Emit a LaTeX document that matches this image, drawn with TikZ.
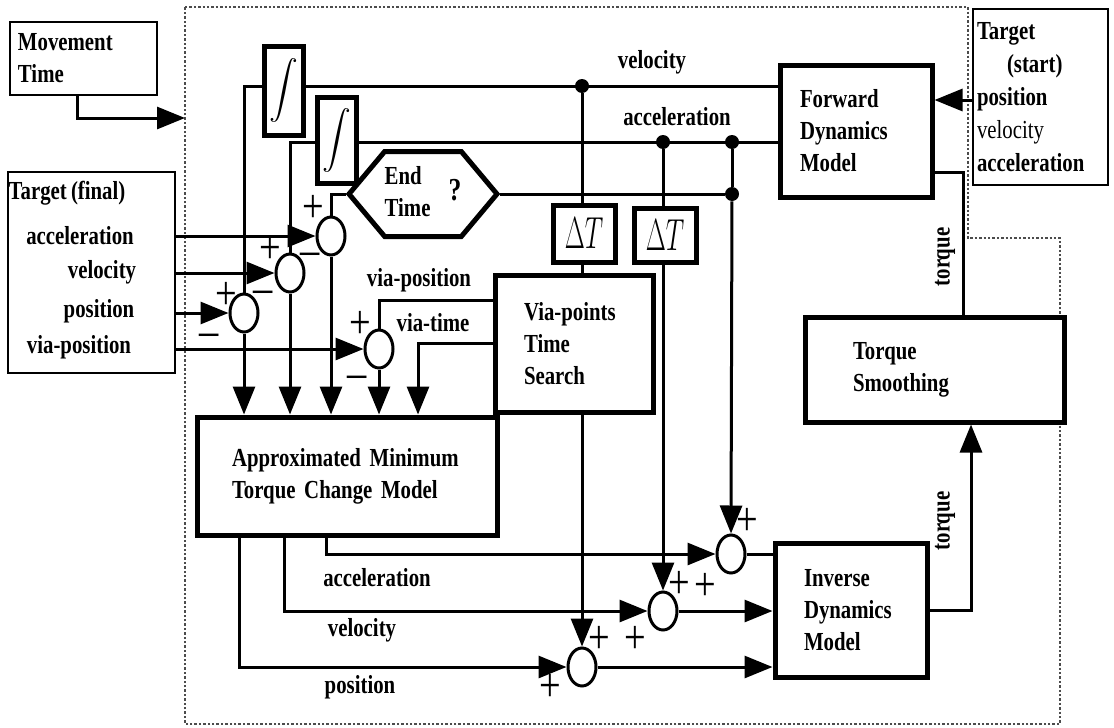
\documentclass[tikz,border=0pt]{standalone}
\usepackage{amsmath}
\usepackage{graphicx}
\usepackage{fontspec}
\setmainfont{Liberation Serif}[FakeStretch=0.8, WordSpace=0.8]
\usepackage{tikz}
\usetikzlibrary{shapes.geometric, shapes.symbols, arrows.meta, calc}

\newcommand{\lblfont}{\fontsize{13}{16}\selectfont\bfseries}
\newcommand{\dT}{\scalebox{0.75}[1.3]{$\Delta T$}}
\tikzset{
  wire/.style={line width=1.5pt},
  arr/.style={line width=1.5pt, -{Triangle[length=14pt, width=11pt]}},
  blk/.style={draw, rectangle, line width=2.5pt, fill=white, align=left, inner ysep=0pt, font=\lblfont},
  thinbox/.style={draw, rectangle, line width=1.2pt},
  intbox/.style={draw, rectangle, line width=2.5pt, fill=white, inner sep=0pt, font=\fontsize{14}{14}\selectfont},
  dtbox/.style={draw, rectangle, line width=2.5pt, fill=white, inner sep=0pt, font=\fontsize{19}{19}\selectfont},
  hexa/.style={draw, signal, signal to=east and west, signal pointer angle=100, line width=2.5pt, fill=white, inner sep=0pt, minimum width=65pt, minimum height=42.5pt, font=\lblfont},
  sumc/.style={draw, ellipse, line width=1.5pt, fill=white, minimum width=14pt, minimum height=19pt, inner sep=0pt},
  jdot/.style={circle, fill, inner sep=0pt, minimum size=7pt},
  sgn/.style={font=\fontsize{24}{24}\selectfont, inner sep=0pt, text height=0.5em, text depth=0pt, yshift=-6.2pt},
  lbl/.style={font=\lblfont, inner sep=0pt},
  bound/.style={line width=1.2pt, densely dotted, black!70}
}

\begin{document}
\begin{tikzpicture}[x=0.5pt, y=-0.5pt]
\useasboundingbox (0,0) rectangle (1114,728);

% controller frame
\draw[bound] (185,7) -- (968,7) -- (968,238) -- (1060,238) -- (1060,724) -- (185,724) -- cycle;

% inputs outside the frame
\node[thinbox, minimum height=36.5pt, text width=65.5pt, inner xsep=4pt, align=left, font=\lblfont] (mt) at (83.5,58.5) {Movement\\Time};
\coordinate (mtin) at (185,118);
\draw[arr] ([xshift=-3.25pt]mt.south) |- (mtin);

\node[thinbox, minimum width=83.5pt, minimum height=100.5pt] (tfin) at (91.5,272.5) {};
\node[lbl] at (67,193) {Target (final)};
\node[lbl] at (80,236) {acceleration};
\node[lbl] at (102,272) {velocity};
\node[lbl] at (99,311) {position};
\node[lbl] at (79,347) {via-position};

\node[thinbox, minimum height=88pt, text width=63.5pt, inner xsep=2pt, align=left, font=\fontsize{13}{16.5}\selectfont\bfseries] (tstart) at (1040.5,97)
   {Target\\\hspace{15pt}(start)\\position\\{\mdseries velocity}\\acceleration};

% blocks
\node[blk, minimum height=66pt, text width=56pt, inner xsep=10pt] (fdm) at (856,131) {Forward\\Dynamics\\Model};
\node[blk, minimum height=52.5pt, text width=81.5pt, inner xsep=24pt] (tsm) at (934.5,369.5) {Torque\\Smoothing};
\node[blk, minimum height=67pt, text width=47pt, inner xsep=14.5pt] (idm) at (851,610) {Inverse\\Dynamics\\Model};
\node[blk, minimum height=59pt, text width=115pt, inner xsep=17.5pt] (amt) at (347,476) {Approximated Minimum\\Torque Change Model};
\node[blk, minimum height=68.5pt, text width=50pt, inner xsep=14.5pt] (via) at (574,343.5) {Via-points\\Time\\Search};

\node[intbox, minimum width=19.5pt, minimum height=44.5pt] (int1) at (283.5,90.5) {$\displaystyle\int$};
\node[intbox, minimum width=19.5pt, minimum height=43pt] (int2) at (336.5,140) {$\displaystyle\int$};
\node[dtbox, minimum width=31pt, minimum height=28.5pt] (dt1) at (584,233.5) {\dT};
\node[dtbox, minimum width=31pt, minimum height=27pt] (dt2) at (665,235) {\dT};
\node[hexa] (endt) at (423,194) {\begin{tabular}{@{}l@{}}End\\Time\end{tabular}\hspace{9pt}{\fontsize{16}{16}\selectfont ?}};

% summing points
\node[sumc] (sumA) at (331,236) {};
\node[sumc] (sumB) at (290,273) {};
\node[sumc] (sumC) at (244,313) {};
\node[sumc] (sumD) at (379,349) {};
\node[sumc] (sumE) at (731,554) {};
\node[sumc] (sumF) at (663,611) {};
\node[sumc] (sumG) at (582,667) {};

% junctions
\node[jdot] (vdot) at (582,86) {};
\node[jdot] (adot1) at (663,142) {};
\node[jdot] (adot2) at (732,142) {};
\node[jdot] (edot) at (732,194) {};

% target (final) to comparators
\draw[arr] (tfin.east |- sumA) -- (sumA);
\draw[arr] (tfin.east |- sumB) -- (sumB);
\draw[arr] (tfin.east |- sumC) -- (sumC);
\draw[arr] (tfin.east |- sumD) -- (sumD);

% forward model outputs
\draw[wire] (fdm.west |- vdot) -- (int1.east |- vdot);
\draw[wire] (int1.west |- vdot) -| (sumC.north);
\draw[wire] (fdm.west |- adot1) -- (int2.east |- adot1);
\draw[wire] (int2.west |- adot1) -| (sumB.north);
\draw[wire] (endt.west) -| (sumA.north);
\draw[wire] (endt.east) -- (edot);
\draw[wire] (adot2) -- (edot);
\draw[wire] (vdot) -- (vdot |- dt1.north);
\draw[wire] (adot1) -- (adot1 |- dt2.north);
\node[lbl] at (652,62) {velocity};
\node[lbl] at (677,117) {acceleration};

% errors into the model
\draw[arr] (sumC.south) -- (sumC.south |- amt.north);
\draw[arr] (sumB.south) -- (sumB.south |- amt.north);
\draw[arr] (sumA.south) -- (sumA.south |- amt.north);
\draw[arr] (sumD.south) -- (sumD.south |- amt.north);
\coordinate (vp) at (380,300);
\coordinate (vt) at (418,343);
\draw[wire] (via.west |- vp) -| (sumD.north);
\draw[arr] (via.west) -| (vt |- amt.north);
\node[lbl] at (419,280) {via-position};
\node[lbl] at (433,323) {via-time};

% model outputs
\coordinate (oa) at (326,0);
\coordinate (ov) at (284,0);
\coordinate (op) at (239,0);
\draw[arr] (oa |- amt.south) |- (sumE.west);
\draw[arr] (ov |- amt.south) |- (sumF.west);
\draw[arr] (op |- amt.south) |- (sumG.west);
\node[lbl] at (377,578) {acceleration};
\node[lbl] at (362,630) {velocity};
\node[lbl] at (360,687) {position};

% delayed states
\draw[wire] (vdot |- dt1.south) -- (vdot |- via.north);
\draw[arr] (via.south -| vdot) -- (sumG.north);
\draw[arr] (adot1 |- dt2.south) -- (sumF.north);
\draw[arr] (edot) -- (sumE.north);

% inverse dynamics and torque loop
\draw[wire] (sumE.east) -- (idm.west |- sumE);
\draw[arr] (sumF.east) -- (idm.west |- sumF);
\draw[arr] (sumG.east) -- (idm.west |- sumG);
\coordinate (tq) at (971,0);
\draw[arr] (idm.east) -| (tq |- tsm.south);
\node[lbl, rotate=90] at (945,521) {torque};
\coordinate (tq2) at (963,172);
\draw[wire] (tsm.north -| tq2) -- (tq2) -- (fdm.east |- tq2);
\node[lbl, rotate=90] at (945,257) {torque};
\coordinate (ps) at (973,100);
\draw[arr] (tstart.west |- ps) -- (fdm.east |- ps);

% signs
\node[sgn] at (313,205) {+};
\node[sgn] at (310,248) {–};
\node[sgn] at (270,246) {+};
\node[sgn] at (263,286) {–};
\node[sgn] at (226,292) {+};
\node[sgn] at (209,329) {–};
\node[sgn] at (360,321) {+};
\node[sgn] at (357,371) {–};
\node[sgn] at (747,518) {+};
\node[sgn] at (705,583) {+};
\node[sgn] at (679,581) {+};
\node[sgn] at (635,636) {+};
\node[sgn] at (599,636) {+};
\node[sgn] at (550,684) {+};
\end{tikzpicture}
\end{document}
